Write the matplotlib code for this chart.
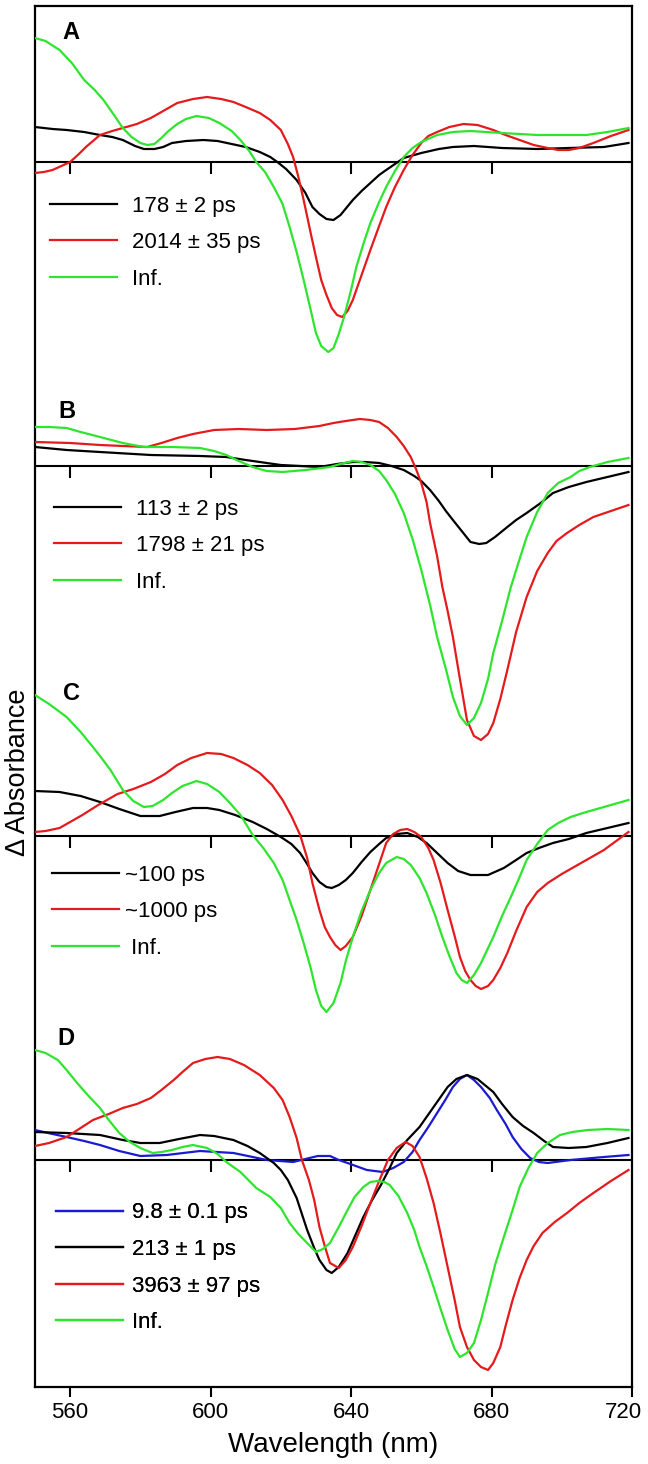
import matplotlib
matplotlib.use("Agg")
import matplotlib.pyplot as plt
from matplotlib.transforms import ScaledTranslation
import numpy as np

plt.rcParams['font.family'] = ['Liberation Sans', 'DejaVu Sans']

# ---------------- data (ΔA, arbitrary units x1000) ----------------
# Panel A
A_black_x = [550, 555, 559, 564, 568.5, 572, 575, 578.5, 581, 584, 586.5, 589, 593, 598, 602, 606, 610, 614, 617, 619, 621.5, 624.5, 627, 629, 631, 633, 635, 637, 640.5, 643, 645.5, 648, 650, 652.5, 655, 660, 665, 669, 675, 683, 693, 702, 712, 719]
A_black_y = [35, 33, 32, 30, 27, 25, 22, 16, 13, 13, 15, 19, 21, 22, 21, 18, 15, 10, 5, 0, -7, -18, -31, -45, -52, -57, -58, -53, -38, -29, -21, -13, -8, -2, 4, 9, 13, 15, 16, 14, 13, 14, 15, 19]
A_red_x = [550, 552.5, 555, 557.5, 560, 562.5, 564.5, 568.5, 572, 575, 579, 583, 587, 590.5, 595, 599, 603, 606.5, 610, 614, 617, 620, 622, 623.5, 625, 626.5, 628.5, 630, 631.5, 633, 634.5, 636, 637.5, 639, 640.5, 642.5, 645.5, 648, 650, 652.5, 655, 657.5, 660, 662, 664.5, 668, 672, 676, 680.5, 684, 688, 692, 696, 699, 702, 705, 709, 714, 719]
A_red_y = [-11, -10, -8, -4, 0, 8, 15, 27, 31, 34, 38, 44, 52, 59, 63, 65, 63, 60, 55, 49, 42, 32, 18, 5, -15, -38, -71, -95, -118, -133, -146, -153, -155, -149, -138, -118, -88, -64, -45, -25, -8, 7, 19, 26, 30, 35, 38, 37, 32, 27, 22, 17, 14, 12, 12, 14, 19, 26, 32]
A_green_x = [550, 553, 557, 560.5, 564, 567, 569.5, 572.5, 575, 577.5, 580, 582, 584, 586, 588, 590.5, 593, 596, 599.5, 602.5, 606, 608.5, 611, 613, 615.5, 618, 620.5, 622.5, 624.5, 626.5, 628.5, 630, 631.5, 633.5, 635, 636.5, 638, 640, 641.5, 643.5, 645.5, 648, 650, 652.5, 655, 657.5, 660, 664.5, 669, 674, 683, 693, 707, 713, 719]
A_green_y = [124, 121, 112, 99, 82, 72, 62, 47, 34, 25, 19, 17, 18, 24, 31, 38, 43, 46, 44, 39, 31, 22, 11, 0, -10, -25, -42, -65, -90, -118, -148, -171, -184, -190, -186, -172, -155, -128, -105, -82, -61, -40, -25, -9, 5, 14, 20, 27, 30, 31, 29, 27, 27, 30, 34]

# Panel B
B_black_x = [550, 559, 568.5, 583, 597, 604.5, 610, 616, 620, 625.5, 631, 636, 640.5, 644, 648, 651.5, 655, 658, 660, 662.5, 665, 667, 669, 671.5, 674, 676.5, 678.5, 681, 684.5, 687, 690, 694, 697.5, 702, 707, 713, 719]
B_black_y = [19, 16, 14, 11, 10, 9, 6, 3, 1, 0, -1, 2, 4, 4, 3, 0, -4, -10, -15, -24, -35, -45, -54, -65, -76, -78, -77, -71, -61, -54, -47, -37, -27, -21, -16, -11, -6]
B_red_x = [550, 560, 568.5, 575, 582, 586, 590.5, 595, 601, 608, 616, 624, 631, 635, 638.5, 642.5, 645.5, 648, 650.5, 653, 655, 657, 658.5, 660, 661.5, 662.5, 664.5, 666, 667.5, 669, 671, 673, 675, 677, 679, 680.5, 682.5, 684.5, 687, 690, 693, 696, 698.5, 701.5, 705, 709, 714, 719]
B_red_y = [24, 23, 21, 20, 19, 23, 28, 32, 36, 37, 36, 37, 40, 43, 45, 47, 46, 44, 38, 29, 20, 9, -3, -17, -36, -57, -90, -121, -145, -171, -213, -254, -270, -274, -268, -257, -233, -204, -166, -131, -105, -87, -75, -67, -59, -51, -45, -39]
B_green_x = [550, 554, 559, 563, 568.5, 575, 581, 589, 597, 601, 604.5, 608, 612, 616, 620.5, 627, 634, 637, 640.5, 643, 645.5, 648, 650, 652.5, 655, 657.5, 660, 662.5, 664.5, 667, 669, 671, 673, 675, 677, 679, 680.5, 683, 685.5, 688, 690, 693, 696, 699, 702.5, 705, 708, 713, 719]
B_green_y = [39, 39, 38, 34, 29, 23, 19, 19, 18, 15, 11, 5, -1, -5, -6, -4, -1, 2, 5, 4, 1, -5, -14, -28, -47, -73, -104, -139, -171, -203, -231, -250, -259, -252, -237, -213, -187, -155, -121, -93, -71, -46, -27, -17, -11, -5, -1, 4, 8]

# Panel C
C_black_x = [550, 557, 563, 568.5, 574, 580, 585.5, 590, 595, 599, 602.5, 607, 612, 616, 620, 623, 625.5, 627.5, 629, 631, 633, 634.5, 636.5, 638.5, 640.5, 643, 645.5, 648, 650, 653, 656, 659, 661.5, 664.5, 667.5, 670.5, 674, 679, 683.5, 687, 690, 693.5, 697.5, 702, 707, 713, 719]
C_black_y = [45, 44, 40, 34, 27, 20, 20, 24, 28, 28, 26, 21, 14, 7, -1, -8, -17, -28, -37, -46, -51, -52, -49, -44, -37, -26, -16, -8, -2, 2, 3, -1, -7, -17, -27, -35, -39, -39, -32, -24, -17, -12, -7, -3, 3, 8, 13]
C_red_x = [550, 553, 557, 560, 563.5, 568, 573.5, 578, 583, 587, 590.5, 594.5, 599, 603, 606.5, 610.5, 614, 617.5, 620.5, 623, 625.5, 627.5, 629, 631, 632.5, 634, 635.5, 637, 638.5, 640.5, 643, 645.5, 648, 650, 652, 654, 656, 658, 660, 662, 663.5, 665.5, 667.5, 669.5, 671, 672.5, 674, 675.5, 677, 679, 680.5, 682.5, 684.5, 687, 690, 693, 696, 700, 703.5, 708, 712, 715.5, 719]
C_red_y = [4, 5, 8, 14, 21, 31, 42, 47, 54, 62, 71, 78, 83, 82, 78, 71, 63, 51, 36, 20, 1, -22, -47, -74, -91, -101, -109, -114, -110, -101, -80, -54, -28, -7, 2, 6, 7, 4, -1, -12, -24, -47, -74, -100, -121, -135, -144, -150, -153, -150, -144, -132, -117, -95, -71, -56, -47, -38, -31, -22, -14, -5, 4]
C_green_x = [550, 554, 559, 563, 566.5, 568.5, 571.5, 575, 578, 581, 583.5, 586.5, 589, 592, 596, 599, 602.5, 605.5, 608.5, 612, 615, 618, 620.5, 622.5, 624.5, 626.5, 628.5, 630, 631.5, 633, 635, 637, 638.5, 640.5, 643, 645.5, 648, 650, 653, 655, 657, 659.5, 661.5, 664, 666, 668, 670, 671.5, 673, 675, 677, 680.5, 683, 685.5, 688, 690, 693, 696, 699, 702.5, 707, 712, 719]
C_green_y = [141, 132, 119, 104, 89, 80, 66, 46, 35, 29, 30, 36, 43, 50, 55, 52, 44, 33, 21, 1, -12, -27, -44, -64, -84, -107, -132, -154, -170, -176, -167, -147, -125, -101, -75, -54, -37, -27, -21, -23, -29, -42, -57, -80, -101, -120, -137, -144, -147, -139, -127, -101, -80, -61, -41, -24, -8, 6, 13, 19, 24, 29, 36]

# Panel D
D_blue_x = [550, 555, 559, 564, 568.5, 574, 580, 587.5, 597, 606.5, 612, 616, 623.5, 627, 630.5, 634, 636.5, 639, 644.5, 649, 652, 655, 657.5, 659.5, 662, 664.5, 667, 669, 671, 673, 675, 677, 679.5, 681.5, 684, 686, 688.5, 691, 693.5, 696, 702.5, 712, 719]
D_blue_y = [30, 26, 23, 19, 15, 9, 4, 5, 9, 7, 3, 0, -2, 1, 4, 4, 0, -3, -10, -12, -8, -2, 8, 20, 33, 47, 61, 73, 81, 85, 80, 73, 62, 50, 36, 23, 11, 2, -2, -3, 0, 3, 5]
D_black_x = [550, 559, 568.5, 575, 580, 585.5, 591, 597, 601, 606.5, 610.5, 614, 618, 620, 622, 624.5, 627.5, 629.5, 631, 633, 634.5, 636.5, 639, 641, 643.5, 646, 648.5, 651, 653, 656, 659.5, 663.5, 667.5, 670, 673, 676, 680.5, 683, 686, 689, 692, 695, 697.5, 702, 707, 713, 719]
D_black_y = [28, 27, 25, 20, 17, 17, 21, 25, 24, 20, 14, 7, -3, -10, -20, -38, -70, -88, -100, -110, -113, -107, -93, -77, -57, -40, -25, -8, 7, 20, 33, 53, 73, 81, 85, 81, 68, 56, 43, 34, 27, 19, 13, 12, 13, 17, 22]
D_red_x = [550, 554, 559, 563, 566.5, 571, 575, 579, 583, 586, 589.5, 592, 595, 598.5, 602, 605.5, 609.5, 614, 618, 620.5, 622.5, 624.5, 626, 628, 629.5, 631, 632.5, 634, 636.5, 638.5, 640.5, 643, 645.5, 648, 650.5, 653, 655.5, 657.5, 659.5, 661.5, 663.5, 665.5, 667.5, 669.5, 671, 673, 675, 677, 679, 680.5, 682.5, 684, 686, 688, 690, 692, 694.5, 698, 701.5, 705, 709, 714, 719]
D_red_y = [14, 17, 23, 32, 40, 46, 52, 56, 62, 70, 80, 88, 97, 101, 103, 101, 95, 85, 72, 60, 43, 22, 0, -20, -40, -67, -86, -103, -108, -100, -87, -66, -43, -21, 0, 12, 18, 14, 3, -18, -43, -74, -107, -140, -167, -187, -200, -207, -210, -203, -187, -166, -140, -118, -100, -86, -73, -62, -53, -43, -33, -21, -10]
D_green_x = [550, 553, 556.5, 559, 562, 565, 568.5, 571, 574, 577, 580, 583.5, 586, 589, 592, 595, 599, 602, 604.5, 608.5, 613, 617, 620, 622.5, 625, 627.5, 630, 632, 634, 636.5, 639, 641, 643.5, 645.5, 647.5, 649.5, 651, 653.5, 656, 658, 659.5, 661.5, 663.5, 665.5, 667.5, 669.5, 671, 673, 675, 677, 679, 681, 683.5, 686, 688, 690.5, 693, 696, 699.5, 703, 707.5, 713, 719]
D_green_y = [110, 107, 100, 90, 77, 65, 52, 40, 27, 18, 12, 7, 8, 10, 13, 15, 12, 6, -2, -12, -28, -37, -48, -63, -74, -83, -92, -89, -83, -67, -50, -37, -27, -22, -21, -22, -25, -36, -53, -70, -87, -106, -127, -149, -170, -189, -197, -193, -183, -160, -133, -105, -77, -50, -27, -8, 7, 17, 25, 28, 30, 31, 30]

panel_letters = ['A', 'B', 'C', 'D']
labels_A = ['178 \u00b1 2 ps', '2014 \u00b1 35 ps', 'Inf.']
labels_B = ['113 \u00b1 2 ps', '1798 \u00b1 21 ps', 'Inf.']
labels_C = ['~100 ps', '~1000 ps', ' Inf.']
labels_D = ['9.8 \u00b1 0.1 ps', '213 \u00b1 1 ps', '3963 \u00b1 97 ps', 'Inf.']
x_ticks = [560, 600, 640, 680, 720]

# ---------------- layout / style ----------------
BLACK, RED, GREEN, BLUE = '#000000', '#e41a1c', '#2ee52e', '#1a1ad2'
offsets = [1225, 921, 551, 227]          # panel baselines (same units as data)
y_range = (0, 1381)
LW = 1.6

fig = plt.figure(figsize=(6.48, 14.64), dpi=100)
ax = fig.add_axes([35 / 648, 1 - 1387 / 1464, 597 / 648, 1381 / 1464])
ax.set_xlim(550, 720)
ax.set_ylim(*y_range)

panels = [
    [(A_black_x, A_black_y, BLACK), (A_red_x, A_red_y, RED), (A_green_x, A_green_y, GREEN)],
    [(B_black_x, B_black_y, BLACK), (B_red_x, B_red_y, RED), (B_green_x, B_green_y, GREEN)],
    [(C_black_x, C_black_y, BLACK), (C_red_x, C_red_y, RED), (C_green_x, C_green_y, GREEN)],
    [(D_blue_x, D_blue_y, BLUE), (D_black_x, D_black_y, BLACK), (D_red_x, D_red_y, RED), (D_green_x, D_green_y, GREEN)],
]
panel_labels = [labels_A, labels_B, labels_C, labels_D]
leg_anchor = [(0.0251, 0.8627), (0.0318, 0.6433), (0.0285, 0.3783), (0.0352, 0.1336)]
leg_textpad = [0.7, 0.7, 0.3, 0.4]
letter_pos = [(62, 39), (58, 418), (63, 700), (57, 1045)]  # figure px (left, baseline)

# zero lines with tick marks
for off in offsets:
    ax.axhline(off, color='k', lw=1.5, zorder=1)
    ax.plot(x_ticks[:-1], [off] * (len(x_ticks) - 1), ls='none', marker=3,
            ms=8.5, mew=1.5, color='k', zorder=1)

for i, (curves, labs, off) in enumerate(zip(panels, panel_labels, offsets)):
    hs = []
    for (xs, ys, c), lab in zip(curves, labs):
        h, = ax.plot(xs, np.asarray(ys) + off, color=c, lw=LW, label=lab, zorder=3,
                     solid_joinstyle='round')
        hs.append(h)
    leg = ax.legend(handles=hs, loc='upper left', bbox_to_anchor=leg_anchor[i],
                    frameon=False, borderpad=0, borderaxespad=0, handlelength=3.0,
                    handletextpad=leg_textpad[i], labelspacing=0.7, fontsize=16)
    ax.add_artist(leg)

for letter, (px, py) in zip(panel_letters, letter_pos):
    fig.text(px / 648, 1 - py / 1464, letter, fontsize=17, fontweight='bold',
             ha='left', va='baseline')

ax.set_yticks([])
ax.set_xticks(x_ticks)
ax.tick_params(axis='x', direction='out', length=7.5, width=1.5, labelsize=16, pad=3)
for s in ax.spines.values():
    s.set_linewidth(1.6)
# keep last tick label inside the figure as in the reference
last = ax.get_xticklabels()[-1]
last.set_transform(last.get_transform() + ScaledTranslation(-9 / 100, 0, fig.dpi_scale_trans))

ax.set_xlabel('Wavelength (nm)', fontsize=20, labelpad=7)
ax.set_ylabel('\u0394 Absorbance', fontsize=19.5)
ax.yaxis.set_label_coords(-0.007, 1 - (772 - 6) / 1381)

fig.savefig('out.png', dpi=100)
